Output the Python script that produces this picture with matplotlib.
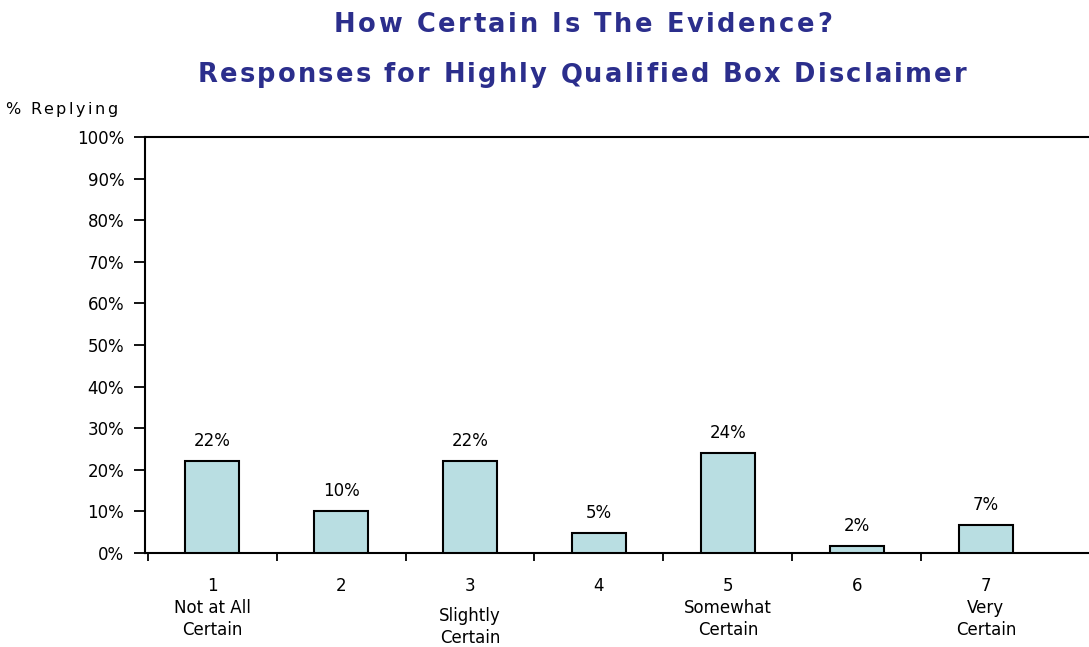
import numpy as np
import matplotlib
matplotlib.use("Agg")
import matplotlib.pyplot as plt

plt.rcParams['font.family'] = ['DejaVu Sans']

# data
categories = ["1", "2", "3", "4", "5", "6", "7"]
cat_labels = ["1\nNot at All\nCertain", "2", "3", "4", "5\nSomewhat\nCertain", "6", "7\nVery\nCertain"]
values = [22.1, 10.1, 22.1, 4.8, 24.0, 1.6, 6.7]
bar_labels = ["22%", "10%", "22%", "5%", "24%", "2%", "7%"]
yticks = [0, 10, 20, 30, 40, 50, 60, 70, 80, 90, 100]
ytick_labels = ["%d%%" % v for v in yticks]
title1 = "How Certain Is The Evidence?"
title2 = "Responses for Highly Qualified Box Disclaimer"

title_color = "#2B2E8C"
bar_color = "#B9DEE2"
W, H = 1089, 647

fig = plt.figure(figsize=(W / 100, H / 100), dpi=100)
ax = fig.add_axes([145/W, 94/H, 944/W, 416/H])
rend = fig.canvas.get_renderer()


def text_w(s, **kw):
    t = fig.text(0, 0, s, **kw)
    w = t.get_window_extent(rend).width
    t.remove()
    return w


def spaced_text(xc, y_base, s, total_w, **kw):
    # the old chart's lettering is stretched wide, so spread the letters a bit
    sp = text_w("a a", **kw) - text_w("aa", **kw)
    widths = [sp if ch == " " else text_w(ch, **kw) for ch in s]
    gap = max(0.0, (total_w - sum(widths)) / (len(s) - 1))
    total = sum(widths) + gap * (len(s) - 1)
    x = xc - total / 2
    for ch, cw in zip(s, widths):
        if ch != " ":
            fig.text(x / W, 1 - y_base / H, ch, ha="left", va="baseline", **kw)
        x += cw + gap


x = np.arange(1, len(values) + 1)
ax.bar(x, values, width=0.42, color=bar_color, edgecolor="black", linewidth=1.5, zorder=3)

for xi, v, lab in zip(x, values, bar_labels):
    ax.annotate(lab, xy=(xi, v), xytext=(0, 8), textcoords="offset points",
                ha="center", va="bottom", fontsize=12)

ax.set_xlim(0.48, 7.8)
ax.set_ylim(0, 100)
ax.set_yticks(yticks)
ax.set_yticklabels(ytick_labels, fontsize=12)

# boundary ticks as major, labels on minor ticks at bar centres
ax.set_xticks(np.arange(0.5, 7.0, 1.0))
ax.set_xticklabels([])
ax.set_xticks(x, minor=True)
labs = list(cat_labels)
labs[2] = "3"
ax.set_xticklabels(labs, minor=True, fontsize=12, linespacing=1.3)
ax.tick_params(axis="x", which="minor", length=0, pad=17)
ax.tick_params(axis="x", which="major", length=6, width=1.3, direction="out")
ax.tick_params(axis="y", length=8, width=1.3, direction="out", pad=7)
ax.annotate("Slightly\nCertain", xy=(3, 0), xycoords=("data", "axes fraction"),
            xytext=(0, -39), textcoords="offset points", ha="center", va="top",
            fontsize=12, linespacing=1.3)

ax.spines["right"].set_visible(False)
for s in ["left", "top", "bottom"]:
    ax.spines[s].set_linewidth(1.5)

spaced_text(61, 114, "% Replying", 112, fontsize=11.5)
spaced_text(583, 32, title1, 498, fontsize=18.5, fontweight="bold", color=title_color)
spaced_text(582, 82, title2, 769, fontsize=18.5, fontweight="bold", color=title_color)

fig.savefig("out.png", dpi=100)
